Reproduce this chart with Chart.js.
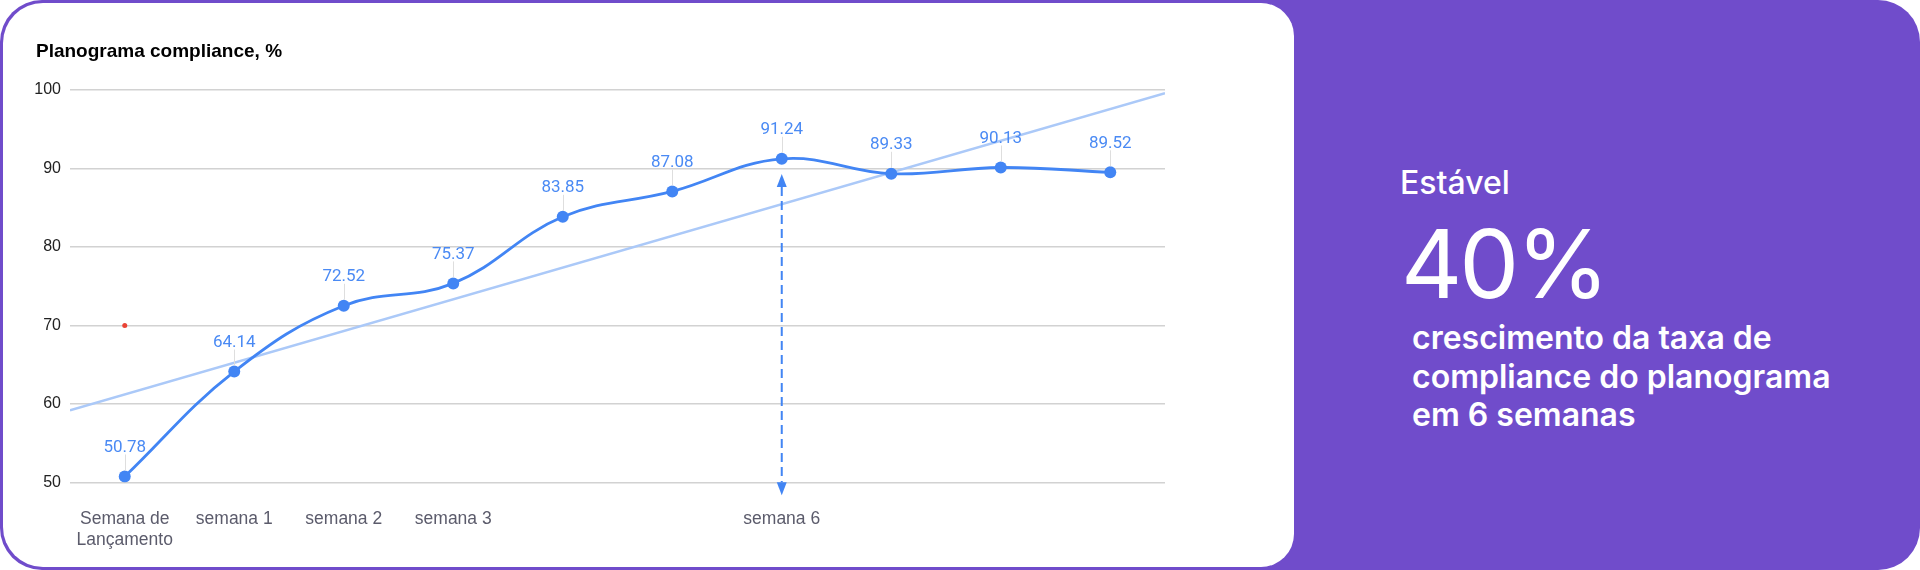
<!DOCTYPE html>
<html>
<head>
<meta charset="utf-8">
<script src="https://cdn.jsdelivr.net/npm/chart.js@4"></script>
<style>
  html, body { margin: 0; padding: 0; background: #ffffff; }
  #frame { position: absolute; left: 0; top: 0; width: 1920px; height: 570px; background: #704ccb; border-radius: 42px; overflow: hidden; }
  #card { position: absolute; left: 3px; top: 3px; width: 1291px; height: 564px; background: #ffffff; border-radius: 40px 33px 33px 40px; overflow: hidden; }
  #chart { position: absolute; left: 0; top: 0; }
  #title { position: absolute; left: 33px; top: 38px; font: bold 19px "Liberation Sans", Arial, sans-serif; line-height: 19px; color: #000; white-space: nowrap; }
  .rt { position: absolute; color: #ffffff; font-family: Inter, "Noto Sans", sans-serif; white-space: nowrap; }
  #kicker { left: 1400px; top: 167px; font-size: 32px; line-height: 32px; font-weight: 500; }
  #big { left: 1401px; top: 216px; font-size: 95px; line-height: 95px; font-weight: 400; letter-spacing: -3px; }
  #desc { left: 1412px; top: 319px; font-size: 32px; line-height: 38.5px; font-weight: 600; }
</style>
</head>
<body>
<div id="frame">
  <div id="card">
    <canvas id="chart" width="1291" height="564"></canvas>
    <div id="title">Planograma compliance, %</div>
  </div>
  <div class="rt" id="kicker">Estável</div>
  <div class="rt" id="big">40%</div>
  <div class="rt" id="desc">crescimento da taxa de<br>compliance do planograma<br>em 6 semanas</div>
</div>
<script>
// ---- data ----
const categories = [['Semana de', 'Lançamento'], 'semana 1', 'semana 2', 'semana 3', '', '', 'semana 6', '', '', ''];
const compliance = [50.78, 64.14, 72.52, 75.37, 83.85, 87.08, 91.24, 89.33, 90.13, 89.52];
const trendX = [-0.5, 9.5];
const trendY = [59.2, 99.6];
const redMarker = [70, null, null, null, null, null, null, null, null, null];
const arrowIndex = 6;
const arrowRange = [89.3, 48.4];
const yTicks = [50, 60, 70, 80, 90, 100];

const BLUE = '#4285f4';

const overlay = {
  id: 'overlay',
  afterDatasetsDraw(chart) {
    const ctx = chart.ctx;
    const meta = chart.getDatasetMeta(1);
    const xs = chart.scales.x, ys = chart.scales.y;
    ctx.save();
    // value labels with leader lines
    ctx.font = '17px Roboto, "Liberation Sans", sans-serif';
    ctx.textAlign = 'center';
    ctx.textBaseline = 'alphabetic';
    meta.data.forEach((pt, i) => {
      const x = pt.x, y = pt.y;
      ctx.strokeStyle = '#dedede';
      ctx.lineWidth = 1;
      ctx.beginPath();
      ctx.moveTo(Math.round(x) + 0.5, y - 22);
      ctx.lineTo(Math.round(x) + 0.5, y - 6);
      ctx.stroke();
      ctx.fillStyle = '#4a8af4';
      ctx.fillText(compliance[i].toFixed(2), x, y - 24.5);
    });
    // double-headed dashed arrow
    const ax = xs.getPixelForValue(arrowIndex);
    const yTop = ys.getPixelForValue(arrowRange[0]);
    const yBot = ys.getPixelForValue(arrowRange[1]);
    const head = 13, hw = 5;
    ctx.strokeStyle = BLUE;
    ctx.fillStyle = BLUE;
    ctx.lineWidth = 2;
    ctx.setLineDash([9, 5]);
    ctx.beginPath();
    ctx.moveTo(ax, yTop + head);
    ctx.lineTo(ax, yBot - head);
    ctx.stroke();
    ctx.setLineDash([]);
    ctx.beginPath();
    ctx.moveTo(ax, yTop); ctx.lineTo(ax - hw, yTop + head); ctx.lineTo(ax + hw, yTop + head); ctx.closePath();
    ctx.fill();
    ctx.beginPath();
    ctx.moveTo(ax, yBot); ctx.lineTo(ax - hw, yBot - head); ctx.lineTo(ax + hw, yBot - head); ctx.closePath();
    ctx.fill();
    ctx.restore();
  }
};

new Chart(document.getElementById('chart'), {
  type: 'line',
  data: {
    labels: categories,
    datasets: [
      {
        label: 'Tendência',
        xAxisID: 'x2',
        data: trendX.map((x, i) => ({ x: x, y: trendY[i] })),
        borderColor: '#abc9f8',
        borderWidth: 2.5,
        pointRadius: 0,
        tension: 0,
        order: 3
      },
      {
        label: 'Planograma compliance, %',
        data: compliance,
        borderColor: BLUE,
        backgroundColor: BLUE,
        borderWidth: 2.8,
        pointRadius: 6,
        pointBorderWidth: 0,
        pointBackgroundColor: BLUE,
        tension: 0.4,
        order: 1
      },
      {
        label: 'marker',
        data: redMarker,
        showLine: false,
        pointRadius: 2.5,
        pointBorderWidth: 0,
        pointBackgroundColor: '#ea4335',
        order: 2
      }
    ]
  },
  options: {
    responsive: false,
    animation: false,
    devicePixelRatio: 1,
    layout: { padding: { left: 0, right: 129, top: 87, bottom: 0 } },
    plugins: { legend: { display: false }, tooltip: { enabled: false }, title: { display: false } },
    scales: {
      x: {
        type: 'category',
        offset: true,
        grid: { display: false },
        border: { display: false },
        ticks: {
          autoSkip: false,
          maxRotation: 0,
          padding: 18,
          color: '#5b5b6b',
          font: { family: '"Liberation Sans", Arial, sans-serif', size: 17.5 }
        },
        afterFit(s) { s.height = 84.4; }
      },
      x2: {
        type: 'linear',
        display: false,
        min: -0.5,
        max: 9.5
      },
      y: {
        min: 50,
        max: 100,
        afterBuildTicks(s) { s.ticks = yTicks.map(v => ({ value: v })); },
        grid: { color: '#d2d2d2', lineWidth: 1.5, drawTicks: false },
        border: { display: false },
        ticks: {
          padding: 9,
          color: '#222222',
          font: { family: '"Liberation Sans", Arial, sans-serif', size: 16 }
        },
        afterFit(s) { s.width = 67; }
      }
    }
  },
  plugins: [overlay]
});
</script>
</body>
</html>
